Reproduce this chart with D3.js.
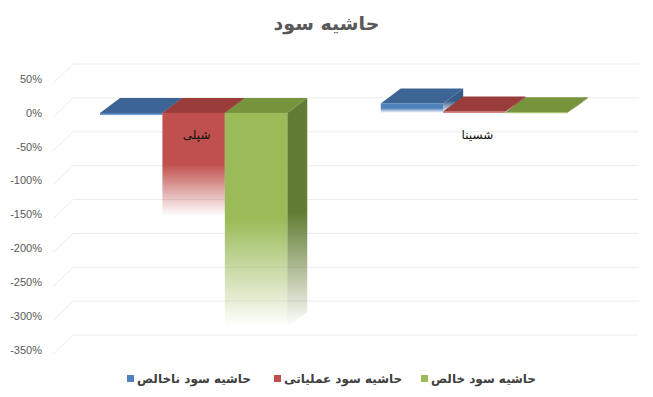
<!DOCTYPE html>
<html>
<head>
<meta charset="utf-8">
<script src="https://cdn.jsdelivr.net/npm/d3@7"></script>
<style>
  body { margin: 0; background: #fff; }
  svg { display: block; }
</style>
</head>
<body>
<svg id="chart" width="653" height="397"></svg>
<script>
// data
const categories = ["شپلی", "شسینا"];
const seriesNames = ["حاشیه سود ناخالص", "حاشیه سود عملیاتی", "حاشیه سود خالص"];
const grossMargin = [-4, 14];
const operatingMargin = [-152, 2];
const netMargin = [-316, 1];
const yTicks = [50, 0, -50, -100, -150, -200, -250, -300, -350];
const titleText = "حاشیه سود";

const seriesValues = [grossMargin, operatingMargin, netMargin];
const frontColors = ["#4f81bd", "#c0504d", "#9bbb59"];
const topColors = ["#3c6595", "#993c3a", "#77933c"];
const sideColors = ["#375c88", "#8a3633", "#627c33"];

const svg = d3.select("#chart");
const W = +svg.attr("width");

// depth offset of the 3d box
const dx = 20, dy = -15;

const y = d3.scaleLinear().domain([-350, 50]).range([350, 79]);
const x0 = d3.scaleBand().domain(categories).range([53.25, 614.75])
  .paddingInner(0.333).paddingOuter(0.1665);
const x1 = d3.scaleBand().domain(d3.range(seriesNames.length)).range([0, x0.bandwidth()]);

// gradients: solid at top, fading towards the bottom
const defs = svg.append("defs");
function grad(id, color) {
  const g = defs.append("linearGradient").attr("id", id)
    .attr("x1", 0).attr("y1", 0).attr("x2", 0).attr("y2", 1);
  g.append("stop").attr("offset", "0%").attr("stop-color", color).attr("stop-opacity", 1);
  g.append("stop").attr("offset", "50%").attr("stop-color", color).attr("stop-opacity", 1);
  g.append("stop").attr("offset", "100%").attr("stop-color", color).attr("stop-opacity", 0);
}
frontColors.forEach((c, i) => grad("front" + i, c));
sideColors.forEach((c, i) => grad("side" + i, c));

// title
svg.append("text")
  .attr("x", W / 2).attr("y", 30)
  .attr("text-anchor", "middle")
  .style("font-family", "DejaVu Sans, sans-serif")
  .style("font-weight", "bold")
  .style("font-size", "19px")
  .attr("fill", "#595959")
  .text(titleText);

// back wall gridlines + side wall diagonals
const xLeft = x0.range()[0], xRight = x0.range()[1];
const grid = svg.append("g");
yTicks.forEach(t => {
  grid.append("line")
    .attr("x1", xLeft + dx).attr("x2", xRight + dx + 4)
    .attr("y1", y(t) + dy).attr("y2", y(t) + dy)
    .attr("stroke", "#ececec").attr("stroke-width", 1);
  grid.append("line")
    .attr("x1", xLeft).attr("x2", xLeft + dx)
    .attr("y1", y(t) + 4).attr("y2", y(t) + dy)
    .attr("stroke", "#ececec").attr("stroke-width", 1);
});

// y axis labels
svg.append("g").selectAll("text")
  .data(yTicks).enter().append("text")
  .attr("x", 42).attr("y", d => y(d))
  .attr("dy", "0.35em")
  .attr("text-anchor", "end")
  .style("font-family", "Liberation Sans, sans-serif")
  .style("font-size", "11px")
  .attr("fill", "#595959")
  .text(d => d + "%");

// 3d bars
const bars = svg.append("g");
categories.forEach((cat, ci) => {
  seriesValues.forEach((vals, si) => {
    const v = vals[ci];
    const xa = x0(cat) + x1(si);
    const xb = xa + x1.bandwidth();
    const yTop = y(Math.max(0, v));
    const yBot = y(Math.min(0, v));
    // top face
    bars.append("path")
      .attr("d", `M${xa},${yTop}L${xa + dx},${yTop + dy}L${xb + dx},${yTop + dy}L${xb},${yTop}Z`)
      .attr("fill", topColors[si]);
    // right side face
    bars.append("path")
      .attr("d", `M${xb},${yTop}L${xb + dx},${yTop + dy}L${xb + dx},${yBot + dy}L${xb},${yBot}Z`)
      .attr("fill", `url(#side${si})`);
    // front face
    bars.append("rect")
      .attr("x", xa).attr("y", yTop)
      .attr("width", xb - xa).attr("height", Math.max(1.5, yBot - yTop))
      .attr("fill", `url(#front${si})`);
  });
});

// category labels
svg.append("g").selectAll("text")
  .data(categories).enter().append("text")
  .attr("x", d => x0(d) + x0.bandwidth() / 2 + 3)
  .attr("y", y(0) + 26)
  .attr("text-anchor", "middle")
  .style("font-family", "DejaVu Sans, sans-serif")
  .style("font-size", "12px")
  .attr("fill", "#111")
  .text(d => d);

// legend
const legendX = [127, 274, 421];
const legend = svg.append("g");
seriesNames.forEach((name, i) => {
  legend.append("rect")
    .attr("x", legendX[i]).attr("y", 375)
    .attr("width", 7).attr("height", 7)
    .attr("fill", frontColors[i]);
  legend.append("text")
    .attr("x", legendX[i] + 10).attr("y", 383)
    .attr("direction", "ltr")
    .style("font-family", "DejaVu Sans, sans-serif")
    .style("font-weight", "bold")
    .style("font-size", "12px")
    .attr("fill", "#404040")
    .text(name);
});
</script>
</body>
</html>
